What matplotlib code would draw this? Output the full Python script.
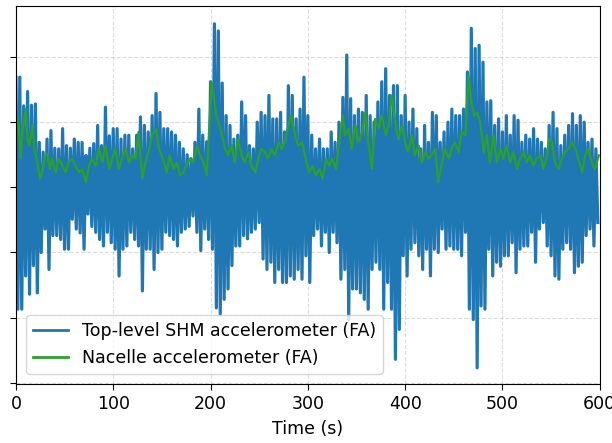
import numpy as np
import matplotlib
matplotlib.use("Agg")
import matplotlib.pyplot as plt

# SHM accelerometer: peak (upper) and trough (lower) read every 4 s
t_env = np.arange(0, 600, 4)
shm_upper = [
    1.69, 1.69, 1.25, 1.47, 1.26, 1.28, 0.69, 0.54, 0.74, 0.87,
    0.60, 0.59, 0.90, 0.64, 0.60, 0.74, 0.69, 0.69, 0.49, 0.60,
    0.67, 0.95, 0.64, 1.23, 0.79, 0.90, 0.90, 0.74, 0.80, 0.80,
    0.59, 0.80, 1.08, 0.95, 0.85, 1.10, 1.44, 1.15, 0.90, 0.90,
    0.85, 0.80, 0.69, 0.59, 0.50, 0.44, 0.69, 1.20, 0.80, 0.70,
    1.62, 2.51, 2.40, 1.60, 1.10, 0.95, 0.74, 0.80, 1.31, 1.10,
    0.64, 0.59, 1.00, 1.15, 1.10, 1.41, 1.05, 1.05, 1.15, 0.85,
    1.56, 1.41, 1.05, 1.20, 1.69, 1.10, 0.80, 0.59, 0.74, 0.59,
    0.59, 0.85, 0.69, 1.00, 1.38, 2.03, 1.36, 1.10, 1.20, 1.15,
    1.41, 1.10, 1.00, 1.31, 1.62, 1.82, 1.41, 1.56, 1.56, 1.10,
    1.41, 1.00, 1.20, 0.90, 0.59, 0.95, 0.69, 1.15, 1.10, 0.69,
    0.85, 1.00, 1.20, 1.10, 1.10, 1.20, 1.77, 2.44, 2.13, 2.18,
    1.92, 1.31, 1.33, 0.95, 1.05, 0.85, 1.10, 0.80, 1.10, 1.03,
    0.69, 0.80, 0.74, 0.90, 0.74, 0.69, 0.59, 0.95, 1.15, 0.90,
    0.64, 0.80, 0.95, 1.13, 0.95, 1.10, 1.00, 0.69, 0.74, 0.59,
]
shm_lower = [
    -1.87, -1.87, -1.36, -1.64, -1.20, -1.62, -1.00, -0.64, -1.26, -0.74,
    -0.74, -0.80, -0.95, -0.95, -0.49, -0.64, -0.70, -0.95, -0.41, -0.60,
    -0.69, -0.80, -0.90, -0.69, -0.85, -0.95, -1.36, -0.95, -0.90, -0.69,
    -0.80, -0.90, -1.59, -0.95, -0.95, -1.26, -1.00, -0.95, -0.69, -0.74,
    -0.80, -0.90, -0.69, -0.64, -0.60, -0.44, -0.69, -0.97, -0.64, -0.80,
    -0.95, -1.85, -1.95, -1.72, -1.56, -1.20, -0.90, -0.90, -0.74, -0.79,
    -0.69, -0.64, -0.54, -1.10, -1.26, -1.15, -1.46, -1.26, -1.46, -1.46,
    -1.36, -1.41, -1.26, -1.41, -1.05, -1.46, -0.74, -0.64, -0.90, -0.69,
    -1.00, -0.69, -0.85, -1.41, -1.26, -2.03, -1.56, -1.56, -1.62, -1.72,
    -1.87, -1.26, -1.15, -1.26, -1.87, -1.46, -1.87, -2.64, -2.18, -1.05,
    -1.36, -0.95, -0.85, -1.05, -1.26, -0.95, -1.36, -0.95, -1.00, -0.64,
    -0.95, -0.90, -0.95, -0.95, -1.05, -0.69, -1.87, -2.03, -2.77, -1.82,
    -1.87, -0.95, -1.36, -1.15, -1.21, -1.05, -1.05, -0.85, -1.31, -0.95,
    -0.90, -0.90, -0.69, -1.15, -0.64, -0.54, -0.90, -1.05, -1.36, -1.41,
    -0.95, -0.85, -0.95, -1.31, -1.21, -1.15, -0.74, -0.64, -0.90, -0.54,
]

# Nacelle accelerometer, read at the visible turning points
t_nac = [
    0, 3, 5, 7, 10, 12, 14, 17, 19, 22, 25, 27, 30, 32, 35, 37, 41, 44, 48, 51,
    54, 58, 61, 65, 68, 72, 75, 78, 82, 85, 89, 92, 96, 99, 102, 106, 109, 113, 116, 120,
    123, 126, 130, 133, 137, 140, 144, 147, 151, 155, 158, 162, 165, 169, 172, 175, 179, 182, 186, 189,
    193, 196, 199, 201, 203, 206, 209, 211, 215, 218, 222, 225, 228, 232, 235, 239, 242, 246, 249, 252,
    256, 259, 263, 266, 270, 273, 276, 280, 283, 287, 290, 294, 297, 301, 305, 308, 312, 315, 319, 322,
    325, 329, 332, 336, 338, 342, 345, 349, 352, 356, 359, 362, 366, 369, 373, 376, 380, 383, 386, 390,
    393, 397, 400, 403, 407, 410, 414, 417, 421, 424, 427, 431, 434, 438, 441, 445, 448, 451, 455, 458,
    462, 465, 468, 471, 474, 477, 481, 484, 487, 491, 494, 498, 501, 504, 508, 511, 515, 518, 522, 525,
    528, 532, 535, 539, 542, 546, 548, 551, 554, 558, 561, 564, 568, 571, 575, 578, 582, 585, 588, 592,
    595, 599,
]
nacelle = [
    1.20, 0.90, 0.44, 0.90, 1.20, 0.74, 0.64, 0.95, 0.59, 0.38, 0.13, 0.23, 0.49, 0.51, 0.28, 0.44, 0.23, 0.44, 0.33, 0.23,
    0.38, 0.44, 0.33, 0.23, 0.28, 0.08, 0.33, 0.44, 0.33, 0.59, 0.38, 0.64, 0.28, 0.44, 0.59, 0.28, 0.44, 0.59, 0.38, 0.49,
    0.44, 0.85, 0.13, 0.38, 0.59, 0.80, 0.90, 0.59, 0.44, 0.23, 0.49, 0.28, 0.38, 0.18, 0.23, 0.33, 0.44, 0.38, 0.64, 0.49,
    0.38, 0.18, 1.00, 1.62, 1.41, 1.10, 0.95, 0.85, 0.59, 0.49, 0.64, 0.38, 0.74, 0.49, 0.38, 0.54, 0.33, 0.23, 0.44, 0.59,
    0.54, 0.44, 0.59, 0.49, 0.69, 0.59, 0.69, 0.95, 1.10, 0.80, 0.64, 0.69, 0.49, 0.23, 0.33, 0.18, 0.28, 0.13, 0.44, 0.33,
    0.44, 0.28, 0.69, 1.10, 0.80, 0.90, 0.59, 0.95, 0.69, 0.85, 1.15, 0.69, 0.28, 1.05, 0.90, 1.10, 0.80, 0.95, 1.41, 1.00,
    0.74, 0.95, 0.69, 0.54, 0.80, 0.49, 0.64, 0.38, 0.54, 0.44, 0.49, 0.59, 0.08, 0.38, 0.59, 0.44, 0.60, 0.69, 0.54, 0.85,
    0.80, 1.72, 1.31, 1.10, 1.15, 1.00, 0.54, 0.80, 0.38, 0.80, 0.38, 0.59, 0.44, 0.64, 0.38, 0.54, 0.28, 0.44, 0.54, 0.38,
    0.49, 0.33, 0.44, 0.49, 0.28, 0.49, 0.74, 0.69, 0.38, 0.28, 0.44, 0.54, 0.59, 0.69, 0.59, 0.44, 0.23, 0.49, 0.59, 0.38,
    0.28, 0.49,
]

# alternate peak / trough so the oscillation fills the band
t_shm = np.empty(2 * len(t_env))
t_shm[0::2] = t_env
t_shm[1::2] = t_env + 2
shm = np.empty(2 * len(t_env))
shm[0::2] = shm_upper
shm[1::2] = shm_lower

fig = plt.figure(figsize=(6.12, 4.43), dpi=100)
ax = fig.add_axes([0.026, 0.133, 0.954, 0.853])

ax.plot(t_shm, shm, color="#1f77b4", lw=2.3, label="Top-level SHM accelerometer (FA)")
ax.plot(t_nac, nacelle, color="#2ca02c", lw=1.6, label="Nacelle accelerometer (FA)")

ax.set_xlim(0, 600)
ax.set_ylim(-3.02, 2.78)
ax.set_xticks(range(0, 601, 100))
ax.set_yticks([-3, -2, -1, 0, 1, 2])
ax.set_yticklabels([])
ax.tick_params(labelsize=12.5, length=4.5)
ax.grid(True, linestyle="--", color="#b0b0b0", alpha=0.45, lw=0.8)
ax.set_xlabel("Time (s)", fontsize=12.5, labelpad=5)
leg = ax.legend(loc="lower left", fontsize=12.5, borderaxespad=0.6)
for h in leg.get_lines():
    h.set_linewidth(2)

fig.savefig("out.png", dpi=100)
